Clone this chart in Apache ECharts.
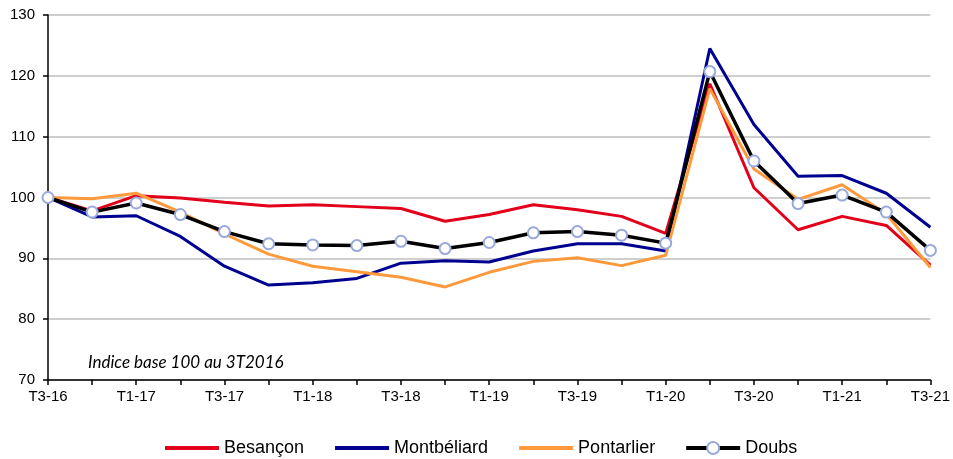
<!DOCTYPE html>
<html>
<head>
<meta charset="utf-8">
<script src="https://cdn.jsdelivr.net/npm/echarts@6/dist/echarts.min.js"></script>
<style>
html,body{margin:0;padding:0;background:#fff;}
#chart{width:953px;height:459px;}
</style>
</head>
<body>
<div id="chart"></div>
<script>
var categories = ["T3-16","T4-16","T1-17","T2-17","T3-17","T4-17","T1-18","T2-18","T3-18","T4-18","T1-19","T2-19","T3-19","T4-19","T1-20","T2-20","T3-20","T4-20","T1-21","T2-21","T3-21"];
var besancon   = [100, 97.8, 100.3, 99.9, 99.2, 98.6, 98.8, 98.5, 98.2, 96.1, 97.2, 98.8, 98.0, 96.9, 94.1, 118.7, 101.6, 94.7, 96.9, 95.4, 88.9];
var montbeliard= [100, 96.8, 97.0, 93.6, 88.7, 85.6, 86.0, 86.7, 89.2, 89.6, 89.4, 91.2, 92.4, 92.4, 91.2, 124.5, 112.0, 103.5, 103.6, 100.7, 95.1];
var pontarlier = [100, 99.8, 100.7, 97.6, 94.0, 90.7, 88.7, 87.8, 86.9, 85.3, 87.7, 89.5, 90.1, 88.8, 90.5, 117.9, 104.7, 99.7, 102.1, 97.3, 88.5];
var doubs      = [100, 97.6, 99.1, 97.2, 94.4, 92.4, 92.2, 92.1, 92.8, 91.6, 92.6, 94.2, 94.4, 93.8, 92.5, 120.7, 106.0, 99.0, 100.4, 97.6, 91.3];
var yTicks = [70, 80, 90, 100, 110, 120, 130];
var note = "Indice base 100 au 3T2016";

var chart = echarts.init(document.getElementById('chart'), null, {renderer:'canvas'});
var font = "'Liberation Sans', Arial, sans-serif";
function lineSeries(name, data, color, w) {
  return {
    name: name, type: 'line', data: data, showSymbol: false, symbol: 'none',
    lineStyle: {color: color, width: w}, itemStyle: {color: color},
    animation: false, z: 2
  };
}
chart.setOption({
  animation: false,
  grid: {left: 48, right: 21, top: 15, bottom: 79, containLabel: false},
  legend: {
    top: 434, left: 158,
    itemWidth: 54, itemHeight: 15, itemGap: 29,
    textStyle: {fontFamily: font, fontSize: 18, color: '#000'},
    data: [
      {name: 'Besançon', itemStyle: {opacity: 0}, lineStyle: {width: 4}},
      {name: 'Montbéliard', itemStyle: {opacity: 0}, lineStyle: {width: 4}},
      {name: 'Pontarlier', itemStyle: {opacity: 0}, lineStyle: {width: 4}},
      {name: 'Doubs', lineStyle: {width: 4}}
    ]
  },
  xAxis: {
    type: 'category', data: categories, boundaryGap: false,
    axisLine: {lineStyle: {color: '#000', width: 1.5}},
    axisTick: {show: true, interval: 0, length: 5, lineStyle: {color: '#000', width: 1.5}},
    axisLabel: {interval: 1, fontFamily: font, fontSize: 15, color: '#000', margin: 9},
    splitLine: {show: false}
  },
  yAxis: {
    type: 'value', min: yTicks[0], max: yTicks[yTicks.length-1], interval: 10,
    axisLine: {show: true, lineStyle: {color: '#000', width: 1.5}},
    axisTick: {show: true, length: 5, lineStyle: {color: '#000', width: 1.5}},
    axisLabel: {fontFamily: font, fontSize: 15, color: '#000', margin: 13},
    splitLine: {show: true, lineStyle: {color: '#bfbfbf', width: 1.5}}
  },
  graphic: [{
    type: 'text', left: 88, top: 354,
    style: {text: note, font: "italic 17px Lato, 'Open Sans', sans-serif", fill: '#000'}
  }],
  series: [
    lineSeries('Besançon', besancon, '#e2001a', 3),
    lineSeries('Montbéliard', montbeliard, '#000090', 3),
    lineSeries('Pontarlier', pontarlier, '#ff9a3c', 3),
    {
      name: 'Doubs', type: 'line', data: doubs, symbol: 'circle', symbolSize: 11, showSymbol: true,
      lineStyle: {color: '#000', width: 3.5},
      itemStyle: {color: '#fff', borderColor: '#9aa9dc', borderWidth: 2},
      z: 3
    }
  ]
});
</script>
</body>
</html>
